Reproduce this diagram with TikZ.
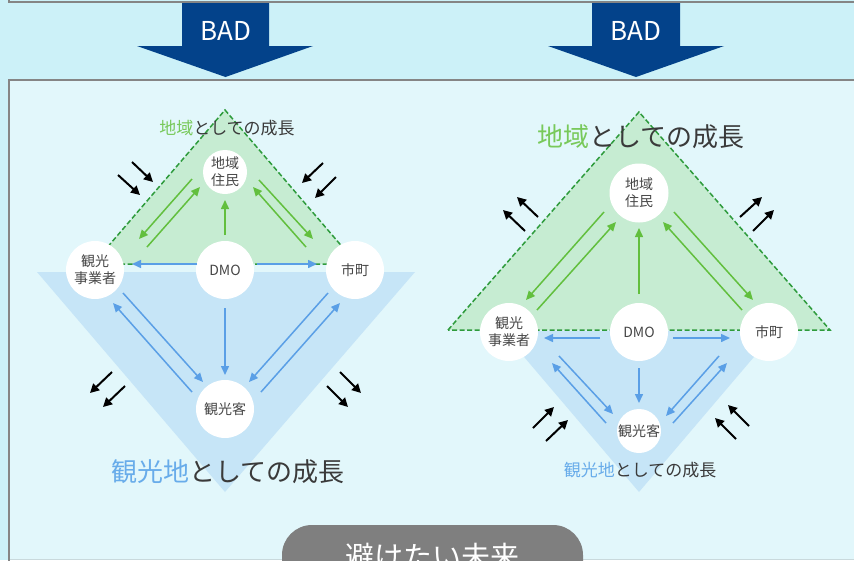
\documentclass[tikz,border=0pt]{standalone}
\usepackage{fontspec}
\setmainfont{Noto Sans CJK JP}
\usetikzlibrary{arrows.meta}
\definecolor{bgtop}{HTML}{CCF1F8}
\definecolor{bgbox}{HTML}{E2F7FB}
\definecolor{framegray}{HTML}{858585}
\definecolor{badblue}{HTML}{03428A}
\definecolor{gfill}{HTML}{C6ECD2}
\definecolor{gdash}{HTML}{2E9B3C}
\definecolor{garr}{HTML}{62BF3E}
\definecolor{bfill}{HTML}{C6E5F7}
\definecolor{barr}{HTML}{5A9FE6}
\definecolor{gtitle}{HTML}{78C95A}
\definecolor{btitle}{HTML}{68ACEA}
\definecolor{txt}{HTML}{3A3A3A}
\definecolor{ctxt}{HTML}{474747}
\definecolor{btngray}{HTML}{7F7F7F}
\definecolor{bottomline}{HTML}{C9D9DC}
\begin{document}
\begin{tikzpicture}[x=1pt,y=-1pt,
  circ/.style={circle,fill=white,inner sep=0pt,minimum size=#1,text=ctxt,
    font=\fontsize{14}{17}\selectfont,align=center},
  garrow/.style={draw=garr,line width=1.5pt,-{Triangle[length=9pt,width=8pt]}},
  barrow/.style={draw=barr,line width=1.5pt,-{Triangle[length=9pt,width=8pt]}},
  karrow/.style={draw=black,line width=2pt,-{Triangle[length=9pt,width=9pt]}},
  gtri/.style={fill=gfill,draw=gdash,line width=1.5pt,dash pattern=on 5pt off 2.5pt},
  btri/.style={fill=bfill},
  smalltitle/.style={text=txt,font=\fontsize{17}{17}\selectfont},
  bigtitle/.style={text=txt,font=\fontsize{26}{26}\selectfont},
  badarrow/.style={fill=badblue},
  badtext/.style={text=white,font=\fontsize{26}{26}\selectfont}
]
\useasboundingbox (0,0) rectangle (854,560);
% backgrounds
\fill[bgtop] (0,0) rectangle (854,560);
\draw[framegray,line width=2pt] (9,-10) rectangle (870,2);
\fill[bgbox] (9,80) rectangle (860,560);
\draw[bottomline,line width=1pt] (9,559.5) -- (860,559.5);
\draw[framegray,line width=2pt] (9,570) -- (9,80) -- (870,80);
% BAD arrows
\fill[badarrow] (182,3) -- (269,3) -- (269,46) -- (313,46) -- (225.5,77) -- (137,46) -- (182,46) -- cycle;
\node[badtext] (badl) at (225.5,31) {BAD};
\fill[badarrow] (592,3) -- (680,3) -- (680,46) -- (724,46) -- (636,77) -- (548,46) -- (592,46) -- cycle;
\node[badtext] (badr) at (636,31) {BAD};

% ===== Left diagram =====
\fill[btri] (37,272) -- (415,272) -- (225,492) -- cycle;
\path[gtri] (93,264) -- (225,110) -- (357,264) -- cycle;
\node[smalltitle] (ltt) at (227,128) {\textcolor{gtitle}{地域}としての成長};
\node[bigtitle] (ltb) at (228,472) {\textcolor{btitle}{観光地}としての成長};

\node[circ=44pt] (LJ) at (225,172) {地域\\住民};
\node[circ=58pt] (LK) at (95,270) {観光\\事業者};
\node[circ=58pt] (LD) at (225,270) {DMO};
\node[circ=58pt] (LS) at (355,270) {市町};
\node[circ=58pt] (LT) at (225,409) {観光客};

\draw[garrow] ([shift={(52,-23)}]LK.center) -- ([shift={(-25,15)}]LJ.center);
\draw[garrow] ([shift={(-33,7)}]LJ.center) -- ([shift={(44,-31)}]LK.center);
\draw[garrow] ([shift={(0,-35)}]LD.center) -- ([shift={(0,28)}]LJ.center);
\draw[garrow] ([shift={(34,8)}]LJ.center) -- ([shift={(-42,-31)}]LS.center);
\draw[garrow] ([shift={(-49,-23)}]LS.center) -- ([shift={(28,15)}]LJ.center);

\draw[barrow] ([shift={(-28,-6)}]LD.center) -- ([shift={(37,-6)}]LK.center);
\draw[barrow] ([shift={(32,-6)}]LD.center) -- ([shift={(-38,-6)}]LS.center);
\draw[barrow] ([shift={(0,38)}]LD.center) -- ([shift={(0,-34)}]LT.center);
\draw[barrow] ([shift={(28,23)}]LK.center) -- ([shift={(-22,-27)}]LT.center);
\draw[barrow] ([shift={(-33,-17)}]LT.center) -- ([shift={(18,33)}]LK.center);
\draw[barrow] ([shift={(-27,23)}]LS.center) -- ([shift={(24,-27)}]LT.center);
\draw[barrow] ([shift={(36,-17)}]LT.center) -- ([shift={(-15,33)}]LS.center);

\draw[karrow] (132,162) -- (153,182);
\draw[karrow] (118,175) -- (140,195);
\draw[karrow] (323,163) -- (302,183);
\draw[karrow] (336,177) -- (315,198);
\draw[karrow] (112,372) -- (90,393);
\draw[karrow] (125,386) -- (103,407);
\draw[karrow] (340,372) -- (361,393);
\draw[karrow] (327,386) -- (348,407);

% ===== Right diagram =====
\fill[btri] (502,331) -- (776,331) -- (639,492) -- cycle;
\path[gtri] (448,330) -- (639,112) -- (830,330) -- cycle;
\node[bigtitle] (rtt) at (641,137) {\textcolor{gtitle}{地域}としての成長};
\node[smalltitle] (rtb) at (640,470) {\textcolor{btitle}{観光地}としての成長};

\node[circ=59pt] (RJ) at (639,193) {地域\\住民};
\node[circ=58pt] (RK) at (509,332) {観光\\事業者};
\node[circ=58pt] (RD) at (639,332) {DMO};
\node[circ=58pt] (RS) at (769,332) {市町};
\node[circ=44pt] (RT) at (639,431) {観光客};

\draw[garrow] ([shift={(-35,19)}]RJ.center) -- ([shift={(17,-32)}]RK.center);
\draw[garrow] ([shift={(28,-22)}]RK.center) -- ([shift={(-23,29)}]RJ.center);
\draw[garrow] ([shift={(0,-38)}]RD.center) -- ([shift={(0,35)}]RJ.center);
\draw[garrow] ([shift={(35,19)}]RJ.center) -- ([shift={(-16,-32)}]RS.center);
\draw[garrow] ([shift={(-27,-22)}]RS.center) -- ([shift={(24,29)}]RJ.center);

\draw[barrow] ([shift={(-39,6)}]RD.center) -- ([shift={(35,6)}]RK.center);
\draw[barrow] ([shift={(34,6)}]RD.center) -- ([shift={(-39,6)}]RS.center);
\draw[barrow] ([shift={(0,36)}]RD.center) -- ([shift={(0,-28)}]RT.center);
\draw[barrow] ([shift={(50,24)}]RK.center) -- ([shift={(-26,-17)}]RT.center);
\draw[barrow] ([shift={(-33,-8)}]RT.center) -- ([shift={(43,31)}]RK.center);
\draw[barrow] ([shift={(-50,24)}]RS.center) -- ([shift={(27,-15)}]RT.center);
\draw[barrow] ([shift={(34,-8)}]RT.center) -- ([shift={(-42,31)}]RS.center);

\draw[karrow] (538,217) -- (517,197);
\draw[karrow] (525,231) -- (503,210);
\draw[karrow] (740,217) -- (762,197);
\draw[karrow] (753,231) -- (774,210);
\draw[karrow] (533,428) -- (554,407);
\draw[karrow] (546,441) -- (568,420);
\draw[karrow] (749,426) -- (728,405);
\draw[karrow] (736,439) -- (715,418);

% bottom button
\fill[btngray,rounded corners=30pt] (282,525) rectangle (583,620);
\node[text=white,font=\fontsize{29}{29}\selectfont] (btn) at (432.5,556) {避けたい未来};
\end{tikzpicture}
\end{document}
